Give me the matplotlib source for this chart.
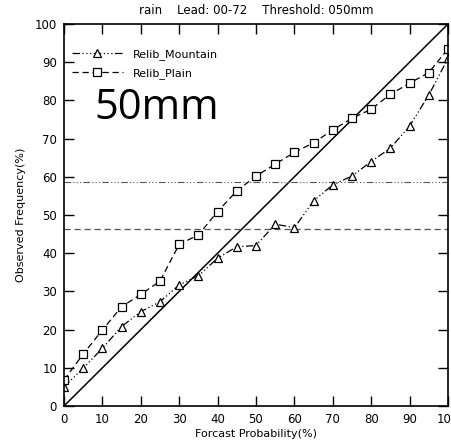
import matplotlib
matplotlib.use("Agg")
import matplotlib.pyplot as plt

prob = [0, 5, 10, 15, 20, 25, 30, 35, 40, 45, 50, 55, 60, 65, 70, 75, 80, 85, 90, 95, 100]
mountain = [5.0, 9.9, 15.1, 20.8, 24.7, 27.3, 31.7, 34.1, 38.7, 41.7, 42.0, 47.6, 46.7,
            53.7, 57.9, 60.2, 64.0, 67.5, 73.3, 81.4, 91.0]
plain = [6.8, 13.6, 19.9, 26.0, 29.2, 32.7, 42.3, 44.8, 50.9, 56.3, 60.2, 63.3, 66.4,
         68.9, 72.3, 75.3, 77.7, 81.6, 84.5, 87.3, 93.5]
clim_mountain = 58.6
clim_plain = 46.3
xticks = [0, 10, 20, 30, 40, 50, 60, 70, 80, 90, 100]
yticks = [0, 10, 20, 30, 40, 50, 60, 70, 80, 90, 100]

fig = plt.figure(figsize=(4.52, 4.46), dpi=100)
ax = fig.add_axes([64/452, 40/446, 384/452, 382/446])

dashdotdot = (0, (6, 2, 1, 2, 1, 2, 1, 2))
ax.plot([0, 100], [0, 100], color='black', lw=1.1)
ax.axhline(clim_mountain, color='#555555', lw=0.8, linestyle=dashdotdot)
ax.axhline(clim_plain, color='#555555', lw=0.9, linestyle=(0, (5, 3)))
ax.plot(prob, mountain, color='black', lw=0.9, linestyle=dashdotdot,
        marker='^', markersize=6, markerfacecolor='white', markeredgecolor='black',
        markeredgewidth=0.9, label='Relib_Mountain')
ax.plot(prob, plain, color='black', lw=0.9, linestyle=(0, (5, 3)),
        marker='s', markersize=5.5, markerfacecolor='white', markeredgecolor='black',
        markeredgewidth=0.9, label='Relib_Plain')

ax.set_xlim(0, 100)
ax.set_ylim(0, 100)
ax.set_xticks(xticks)
ax.set_yticks(yticks)
ax.tick_params(direction='in', length=7, width=1, top=True, right=True,
               labelsize=8.5, pad=5)
for s in ax.spines.values():
    s.set_linewidth(1.2)
ax.set_xlabel('Forcast Probability(%)', fontsize=8, labelpad=2)
ax.set_ylabel('Observed Frequency(%)', fontsize=8, labelpad=6)
ax.set_title('rain    Lead: 00-72    Threshold: 050mm', fontsize=8.5, pad=7)

ax.legend(loc='upper left', bbox_to_anchor=(0.0, 0.955), frameon=False, fontsize=8,
          handlelength=4.6, handletextpad=0.9, labelspacing=0.75, borderaxespad=0.3)
ax.text(0.08, 0.78, '50mm', transform=ax.transAxes, fontsize=30,
        family='Open Sans', va='center', ha='left')

fig.savefig('out.png', dpi=100)
